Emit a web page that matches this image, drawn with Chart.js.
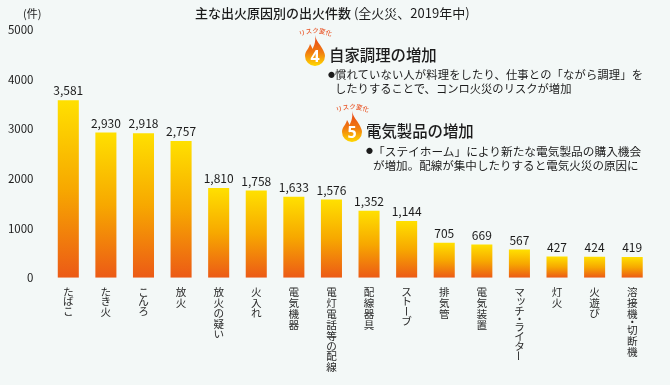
<!DOCTYPE html>
<html lang="ja">
<head>
<meta charset="utf-8">
<title>主な出火原因別の出火件数</title>
<script src="https://cdn.jsdelivr.net/npm/chart.js@4"></script>
<style>
  html, body { margin: 0; padding: 0; background: #f3f8f7; }
  body { width: 670px; height: 385px; position: relative; overflow: hidden;
         font-family: "Noto Sans CJK JP", sans-serif; color: #1c1c1c; }
  canvas { position: absolute; left: 0; top: 0; }
  .txt { position: absolute; white-space: nowrap; line-height: 1; }
  .title { left: 195px; top: 6px; font-size: 13px; font-weight: 500; }
  .title span { font-weight: 400; }
  .unit { left: 23px; top: 8px; font-size: 11px; }
  .head { font-size: 15.4px; font-weight: 500; }
  .body { font-size: 11.3px; }
  .dot { font-size: 7px; }
  .flame { position: absolute; overflow: visible; }
</style>
</head>
<body>
<canvas id="fireChart" width="670" height="385"></canvas>
<div class="txt unit">(件)</div>
<div class="txt title">主な出火原因別の出火件数<span> (全火災、2019年中)</span></div>

<svg class="flame" width="0" height="0" style="position:absolute">
  <defs>
    <linearGradient id="flameGrad" x1="0" y1="0" x2="0" y2="1">
      <stop offset="0" stop-color="#e8421a"/>
      <stop offset="0.55" stop-color="#f07a10"/>
      <stop offset="1" stop-color="#ffd800"/>
    </linearGradient>
  </defs>
</svg>

<svg class="flame" style="left:305px;top:26px" width="20" height="41" viewBox="0 -9 20 41">
  <path d="M10 0C11 6 15 9 17.5 14C19.5 18 20 19 20 21A10 10 0 1 1 0 21C0 16 4 14 5 9C6 11 7 12 7.5 14C9.5 10 11 6 10 0Z" fill="url(#flameGrad)"/>
  <path id="arc4" d="M-6 2Q10 -6 27 2" fill="none"/>
  <text font-size="6.4" font-weight="500" fill="#e9582a"><textPath href="#arc4" startOffset="50%" text-anchor="middle">リスク変化</textPath></text>
  <text x="10" y="26.5" text-anchor="middle" font-size="16" font-weight="700" fill="#fff" font-family="Noto Sans, sans-serif">4</text>
</svg>
<div class="txt head" style="left:329px;top:47px">自家調理の増加</div>
<div class="txt dot" style="left:328px;top:71px">●</div>
<div class="txt body" style="left:335px;top:69px;letter-spacing:0.15px">慣れていない人が料理をしたり、仕事との「ながら調理」を</div>
<div class="txt body" style="left:335px;top:83px">したりすることで、コンロ火災のリスクが増加</div>

<svg class="flame" style="left:342px;top:102px" width="20" height="41" viewBox="0 -9 20 41">
  <path d="M10 0C11 6 15 9 17.5 14C19.5 18 20 19 20 21A10 10 0 1 1 0 21C0 16 4 14 5 9C6 11 7 12 7.5 14C9.5 10 11 6 10 0Z" fill="url(#flameGrad)"/>
  <path id="arc5" d="M-6 2Q10 -6 27 2" fill="none"/>
  <text font-size="6.4" font-weight="500" fill="#e9582a"><textPath href="#arc5" startOffset="50%" text-anchor="middle">リスク変化</textPath></text>
  <text x="10" y="26.5" text-anchor="middle" font-size="16" font-weight="700" fill="#fff" font-family="Noto Sans, sans-serif">5</text>
</svg>
<div class="txt head" style="left:366px;top:123px">電気製品の増加</div>
<div class="txt dot" style="left:366px;top:147px">●</div>
<div class="txt body" style="left:373px;top:145px;font-size:11.7px">「ステイホーム」により新たな電気製品の購入機会</div>
<div class="txt body" style="left:373px;top:160px;font-size:11.55px">が増加。配線が集中したりすると電気火災の原因に</div>

<script>
const causes = ['たばこ', 'たき火', 'こんろ', '放火', '放火の疑い', '火入れ', '電気機器', '電灯電話等の配線',
    '配線器具', 'ストーブ', '排気管', '電気装置', 'マッチ・ライター', '灯火', '火遊び', '溶接機・切断機'];
const fireCounts = [3581, 2930, 2918, 2757, 1810, 1758, 1633, 1576, 1352, 1144, 705, 669, 567, 427, 424, 419];
const yTicks = [0, 1000, 2000, 3000, 4000, 5000];

const FONT = '"Noto Sans CJK JP", sans-serif';

// Gradiente giallo-arancio dalla cima alla base di ogni barra
function barGradient(context) {
    const chart = context.chart;
    if (!chart.chartArea || context.dataIndex === undefined) return '#f59a00';
    const top = chart.scales.y.getPixelForValue(fireCounts[context.dataIndex]);
    const bottom = chart.scales.y.getPixelForValue(0);
    const grad = chart.ctx.createLinearGradient(0, top, 0, bottom);
    grad.addColorStop(0, '#ffe000');
    grad.addColorStop(0.5, '#f7a800');
    grad.addColorStop(1, '#ec5a16');
    return grad;
}

// Valori sopra le barre
const valueLabels = {
    id: 'valueLabels',
    afterDatasetsDraw(chart) {
        const ctx = chart.ctx;
        ctx.save();
        ctx.font = '12px ' + FONT;
        ctx.fillStyle = '#1c1c1c';
        ctx.textAlign = 'center';
        ctx.textBaseline = 'alphabetic';
        chart.getDatasetMeta(0).data.forEach((bar, i) => {
            ctx.fillText(fireCounts[i].toLocaleString('en-US'), bar.x, bar.y - 5);
        });
        ctx.restore();
    }
};

// Canvas non ha la scrittura verticale: le categorie si disegnano carattere per carattere
const verticalCategories = {
    id: 'verticalCategories',
    afterDraw(chart) {
        const ctx = chart.ctx;
        const scale = chart.scales.x;
        ctx.save();
        ctx.font = '10.6px ' + FONT;
        ctx.fillStyle = '#2a2a2a';
        ctx.textAlign = 'center';
        ctx.textBaseline = 'middle';
        causes.forEach((label, i) => {
            const x = scale.getPixelForTick(i);
            let y = scale.top + 9;
            Array.from(label).forEach(ch => {
                const step = ch === '・' ? 5.5 : /[\u3040-\u30ff]/.test(ch) ? 9.8 : 10.9;
                const cy = y + step / 2;
                if (ch === 'ー') {
                    ctx.save();
                    ctx.translate(x, cy);
                    ctx.rotate(Math.PI / 2);
                    ctx.scale(1, -1);
                    ctx.fillText(ch, 0, 0);
                    ctx.restore();
                } else if (ch === 'ッ') {
                    ctx.fillText(ch, x + 1.5, cy - 1.5);
                } else {
                    ctx.fillText(ch, x, cy);
                }
                y += step;
            });
        });
        ctx.restore();
    }
};

new Chart(document.getElementById('fireChart'), {
    type: 'bar',
    data: {
        labels: causes,
        datasets: [{
            data: fireCounts,
            backgroundColor: barGradient,
            categoryPercentage: 1,
            barPercentage: 0.56
        }]
    },
    plugins: [valueLabels, verticalCategories],
    options: {
        responsive: false,
        animation: false,
        layout: { padding: { top: 30, right: 19 } },
        plugins: { legend: { display: false }, tooltip: { enabled: false } },
        scales: {
            x: {
                grid: { display: false },
                border: { display: false },
                afterFit(scale) { scale.height = 107.3; },
                ticks: { display: false, autoSkip: false }
            },
            y: {
                min: 0,
                max: 5000,
                grid: { display: false },
                border: { display: false },
                afterFit(scale) { scale.width = 49.5; },
                afterBuildTicks(scale) { scale.ticks = yTicks.map(value => ({ value })); },
                ticks: {
                    padding: 8,
                    color: '#1c1c1c',
                    font: { family: FONT, size: 11.5 },
                    callback(value) { return String(value); }
                }
            }
        }
    }
});
</script>
</body>
</html>
